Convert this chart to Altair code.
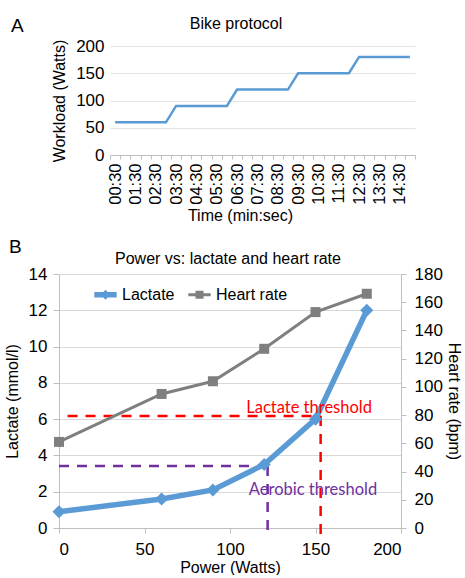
import altair as alt
import pandas as pd

# ---------- Panel A data ----------
times = ["00:30", "01:00", "01:30", "02:00", "02:30", "03:00",
         "03:30", "04:00", "04:30", "05:00", "05:30", "06:00",
         "06:30", "07:00", "07:30", "08:00", "08:30", "09:00",
         "09:30", "10:00", "10:30", "11:00", "11:30", "12:00",
         "12:30", "13:00", "13:30", "14:00", "14:30", "15:00"]
workload = [60, 60, 60, 60, 60, 60,
            90, 90, 90, 90, 90, 90,
            120, 120, 120, 120, 120, 120,
            150, 150, 150, 150, 150, 150,
            180, 180, 180, 180, 180, 180]

# ---------- Panel B data ----------
power = [0, 60, 90, 120, 150, 180]
lactate = [0.9, 1.6, 2.1, 3.5, 6.0, 12.0]
heart_rate = [61, 95, 104, 127, 153, 166]

# threshold guide segments (power, lactate)
lt_x = [5, 153, 153]
lt_y = [6.17, 6.17, -0.77]
at_x = [0, 122, 122]
at_y = [3.42, 3.42, -0.5]
labels_text = ["Lactate threshold", "Aerobic threshold"]
labels_x = [109.5, 111]
labels_y = [6.35, 1.81]
labels_color = ["#FF0000", "#7030A0"]

FONT = "Liberation Sans"
BLUE = "#5B9BD5"
GRAY = "#7F7F7F"
GRID = "#D9D9D9"
AXC = "#BFBFBF"


def header(letter, lx, ly, title, tx, ty):
    """Panel letter and panel title, placed relative to the plot area."""
    d = pd.DataFrame({"t": [letter]})
    a = alt.Chart(d).mark_text(fontSize=19, align="left", baseline="alphabetic",
                               font=FONT).encode(text="t:N", x=alt.value(lx), y=alt.value(ly))
    d2 = pd.DataFrame({"t": [title]})
    b = alt.Chart(d2).mark_text(fontSize=16, align="center", baseline="alphabetic",
                                font=FONT).encode(text="t:N", x=alt.value(tx), y=alt.value(ty))
    return a, b


# ---------- Panel A ----------
# Panel A's plot area starts 51 px right of panel B's; its view is 356 wide
A_SHIFT = 51
A_W = 356
dfA = pd.DataFrame({"time": times, "watts": workload})
xA = alt.X("time:O", sort=None,
           scale=alt.Scale(type="band", paddingInner=0, paddingOuter=0, range=[A_SHIFT, A_W]),
           axis=alt.Axis(title="Time (min:sec)", labelAngle=-90,
                         labelExpr="substring(datum.value, 3) === '30' ? datum.label : ''",
                         tickBand="extent", grid=False, domainColor=AXC, tickColor=AXC,
                         tickSize=4, labelPadding=4, labelFontSize=16.5,
                         titlePadding=3, titleFontSize=16, titleX=181))
yA = alt.Y("watts:Q", scale=alt.Scale(domain=[0, 200], nice=False),
           axis=alt.Axis(title="Workload (Watts)", values=[0, 50, 100, 150, 200],
                         grid=True, gridColor="#E3E3E3", domain=False, ticks=False,
                         labelPadding=6, labelFontSize=17, titleFontSize=16,
                         titlePadding=8, offset=-A_SHIFT))
lineA = alt.Chart(dfA).mark_line(color=BLUE, strokeWidth=2.5).encode(x=xA, y=yA)
letA, titA = header("A", -48, -14, "Bike protocol", 177, -17)
panelA = alt.layer(lineA, letA, titA).properties(width=A_W, height=109)

# ---------- Panel B ----------
dfL = pd.DataFrame({"power": power, "value": lactate, "series": ["Lactate"] * len(power)})
dfH = pd.DataFrame({"power": power, "value": heart_rate, "series": ["Heart rate"] * len(power)})
dfLT = pd.DataFrame({"x": lt_x[:-1], "x2": lt_x[1:], "y": lt_y[:-1], "y2": lt_y[1:]})
dfAT = pd.DataFrame({"x": at_x[:-1], "x2": at_x[1:], "y": at_y[:-1], "y2": at_y[1:]})
dfTxt = pd.DataFrame({"x": labels_x, "y": labels_y, "t": labels_text, "c": labels_color})

xaxisB = alt.Axis(title="Power (Watts)", values=[0, 50, 100, 150, 200], grid=False,
                  domainColor=AXC, tickColor=AXC, tickSize=5, labelPadding=8,
                  labelFontSize=17, titleFontSize=16, titlePadding=2)
xscB = alt.Scale(domain=[0, 200], nice=False)
yaxisL = alt.Axis(title="Lactate (mmol/l)", values=[0, 2, 4, 6, 8, 10, 12, 14], grid=True,
                  gridColor=GRID, domainColor=AXC, tickColor=AXC, tickSize=6,
                  labelPadding=6, labelFontSize=17, titleFontSize=16, titlePadding=8)
yscL = alt.Scale(domain=[0, 14], nice=False)
yaxisR = alt.Axis(title="Heart rate (bpm)", orient="right",
                  values=[0, 20, 40, 60, 80, 100, 120, 140, 160, 180], grid=False,
                  domainColor=AXC, tickColor=AXC, tickSize=5, labelPadding=8,
                  labelFontSize=17, titleFontSize=16, titlePadding=3)
yscR = alt.Scale(domain=[0, 180], nice=False)

lac_path = "M-1,-0.24L1,-0.24L1,0.24L-1,0.24Z M-0.44,0L0,-0.44L0.44,0L0,0.44Z"
hr_path = "M-1,-0.13L1,-0.13L1,0.13L-1,0.13Z M-0.36,-0.36L0.36,-0.36L0.36,0.36L-0.36,0.36Z"
legend = alt.Legend(title=None, orient="none", legendX=35, legendY=9,
                    direction="horizontal", labelFontSize=16, labelFont=FONT,
                    symbolSize=500, symbolStrokeWidth=0, labelOffset=5,
                    columnPadding=13, padding=0,
                    symbolType={"expr": "datum.value === 'Lactate' ? '" + lac_path +
                                "' : '" + hr_path + "'"})
cscale = alt.Scale(domain=["Lactate", "Heart rate"], range=[BLUE, GRAY])

X = alt.X("power:Q", scale=xscB, axis=xaxisB)
lac_line = alt.Chart(dfL).mark_line(color=BLUE, strokeWidth=5.5).encode(
    x=X, y=alt.Y("value:Q", scale=yscL, axis=yaxisL))
lac_pts = alt.Chart(dfL).mark_point(shape="diamond", filled=True, size=170, opacity=1).encode(
    x=X, y=alt.Y("value:Q", scale=yscL, axis=yaxisL),
    color=alt.Color("series:N", scale=cscale, legend=legend))
lt_rule = alt.Chart(dfLT).mark_rule(color="#FF0000", strokeWidth=2.5, strokeDash=[10, 8]).encode(
    x=alt.X("x:Q", scale=xscB, axis=xaxisB), x2="x2:Q",
    y=alt.Y("y:Q", scale=yscL, axis=yaxisL), y2="y2:Q")
at_rule = alt.Chart(dfAT).mark_rule(color="#7030A0", strokeWidth=2.5, strokeDash=[10, 8]).encode(
    x=alt.X("x:Q", scale=xscB, axis=xaxisB), x2="x2:Q",
    y=alt.Y("y:Q", scale=yscL, axis=yaxisL), y2="y2:Q")
txt = alt.Chart(dfTxt).mark_text(align="left", baseline="alphabetic", fontSize=16.5,
                                 font="Lato").encode(
    x=alt.X("x:Q", scale=xscB, axis=xaxisB),
    y=alt.Y("y:Q", scale=yscL, axis=yaxisL),
    text="t:N",
    fill=alt.Fill("c:N", scale=None))
letB, titB = header("B", -50, -21, "Power vs: lactate and heart rate", 169, -10)

left = alt.layer(lt_rule, at_rule, lac_line, lac_pts, txt, letB, titB)

hr_line = alt.Chart(dfH).mark_line(color=GRAY, strokeWidth=3).encode(
    x=X, y=alt.Y("value:Q", scale=yscR, axis=yaxisR))
hr_pts = alt.Chart(dfH).mark_point(shape="square", filled=True, size=100, opacity=1).encode(
    x=X, y=alt.Y("value:Q", scale=yscR, axis=yaxisR),
    color=alt.Color("series:N", scale=cscale, legend=legend))
right = alt.layer(hr_line, hr_pts)

panelB = alt.layer(left, right).resolve_scale(y="independent").properties(
    width=342, height=254)

chart = alt.vconcat(panelA, panelB, spacing=14).resolve_scale(
    color="independent").resolve_legend(color="independent").properties(
    padding={"left": 4, "top": 16, "right": 0, "bottom": 0}
).configure(font=FONT).configure_view(stroke=None).configure_axis(
    labelFont=FONT, titleFont=FONT, labelColor="#000000", titleColor="#000000",
    titleFontWeight="normal")

chart.save("out.html", embed_options={"renderer": "svg", "actions": False})
